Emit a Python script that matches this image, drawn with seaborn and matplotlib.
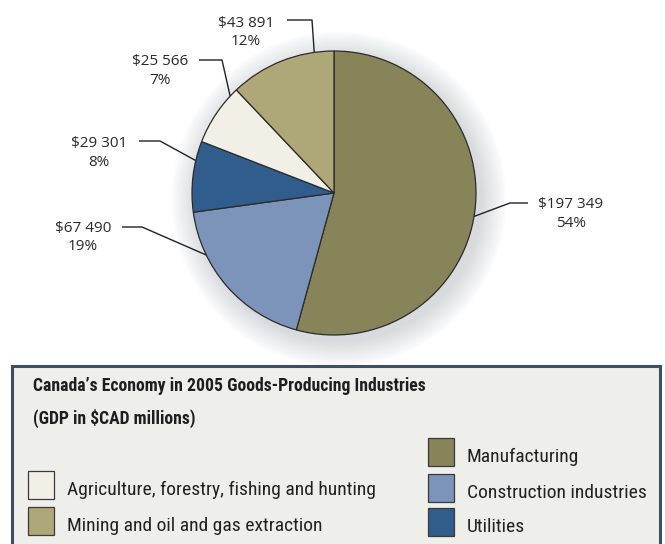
import numpy as np
import matplotlib
matplotlib.use("Agg")
import matplotlib.pyplot as plt
from matplotlib.patches import Rectangle, Circle
from matplotlib import font_manager
import seaborn as sns

# ---- data ----
categories = ["Manufacturing", "Construction industries", "Utilities",
              "Agriculture, forestry, fishing and hunting",
              "Mining and oil and gas extraction"]
values = [197349, 67490, 29301, 25566, 43891]
value_labels = ["$197 349", "$67 490", "$29 301", "$25 566", "$43 891"]
pct_labels = ["54%", "19%", "8%", "7%", "12%"]
colors = ["#878459", "#7C94BA", "#305D8B", "#F2EFE7", "#AEA878"]
title_lines = ["Canada\u2019s Economy in 2005 Goods-Producing Industries",
               "(GDP in $CAD millions)"]

sns.set_theme(style="white")
plt.rcParams['font.family'] = ['Open Sans', 'DejaVu Sans']

avail = {f.name for f in font_manager.fontManager.ttflist}
narrow = [n for n in ['Roboto Condensed', 'Liberation Sans Narrow', 'Open Sans Condensed']
          if n in avail]
cond = narrow + ['Roboto', 'DejaVu Sans']
have_narrow = len(narrow) > 0

W, H = 665, 544
fig = plt.figure(figsize=(W / 100, H / 100), dpi=100)
ax = fig.add_axes([0, 0, 1, 1])

def Y(y):
    return H - y

cx, cy, R = 334, 193, 142

# soft shadow around pie
for i in range(12):
    rr = R + 1 + i * 2.2
    ax.add_patch(Circle((cx + 5, Y(cy + 6)), rr, color="#a0a4ab",
                        alpha=0.035, lw=0, zorder=0))

wedges, _ = ax.pie(values, colors=colors, startangle=90, counterclock=False,
                   center=(cx, Y(cy)), radius=R, frame=True,
                   wedgeprops=dict(edgecolor="#2b2b2b", linewidth=0.9))
for w in wedges:
    w.set_zorder(2)

ax.set_xlim(0, W)
ax.set_ylim(0, H)
ax.set_aspect('equal')
ax.axis('off')

layout = [
    dict(tx=571, ty=214, pts=[(528, 203), (510, 203)], ang=-9.5),
    dict(tx=83, ty=237.5, pts=[(122, 227), (142, 227)], ang=205.9),
    dict(tx=99, ty=153, pts=[(139, 141), (160, 141)], ang=166.8),
    dict(tx=160, ty=71, pts=[(199, 60), (222, 60)], ang=137),
    dict(tx=246, ty=32.5, pts=[(287, 20), (312, 20)], ang=98),
]
for vl, pl, L in zip(value_labels, pct_labels, layout):
    a = np.deg2rad(L['ang'])
    end = (cx + R * np.cos(a), Y(cy) + R * np.sin(a))
    xs = [p[0] for p in L['pts']] + [end[0]]
    ys = [Y(p[1]) for p in L['pts']] + [end[1]]
    ax.plot(xs, ys, color="#222222", lw=1.0, zorder=3, solid_capstyle='butt')
    ax.text(L['tx'], Y(L['ty']), vl + "\n" + pl, ha='center', va='center',
            fontsize=11, color="#2a2a2a", linespacing=1.35, zorder=3)

# legend box
ax.add_patch(Rectangle((12, Y(552)), 648, 552 - 366, facecolor="#EEEEEA",
                       edgecolor="#3E4E63", lw=2.2, zorder=4, clip_on=False))
tsize = 12.7 if have_narrow else 10.4
for ty, tl in zip([386, 418], title_lines):
    ax.text(33, Y(ty), tl, ha='left', va='center', fontsize=tsize,
            fontweight='bold', family=cond, color="#1e1e1e", zorder=5)

legend_pos = {
    "Manufacturing": (428, 452),
    "Construction industries": (428, 488),
    "Utilities": (428, 522),
    "Agriculture, forestry, fishing and hunting": (28, 485),
    "Mining and oil and gas extraction": (28, 521),
}
isize = 14 if have_narrow else 12.5
for cat, col in zip(categories, colors):
    x, yc = legend_pos[cat]
    ax.add_patch(Rectangle((x, Y(yc + 14)), 26, 28, facecolor=col,
                           edgecolor="#3a3a3a", lw=0.9, zorder=5))
    ax.text(x + 39, Y(yc + 5), cat, ha='left', va='center', fontsize=isize,
            family=cond, color="#222222", zorder=5)

fig.savefig("out.png", dpi=100)
